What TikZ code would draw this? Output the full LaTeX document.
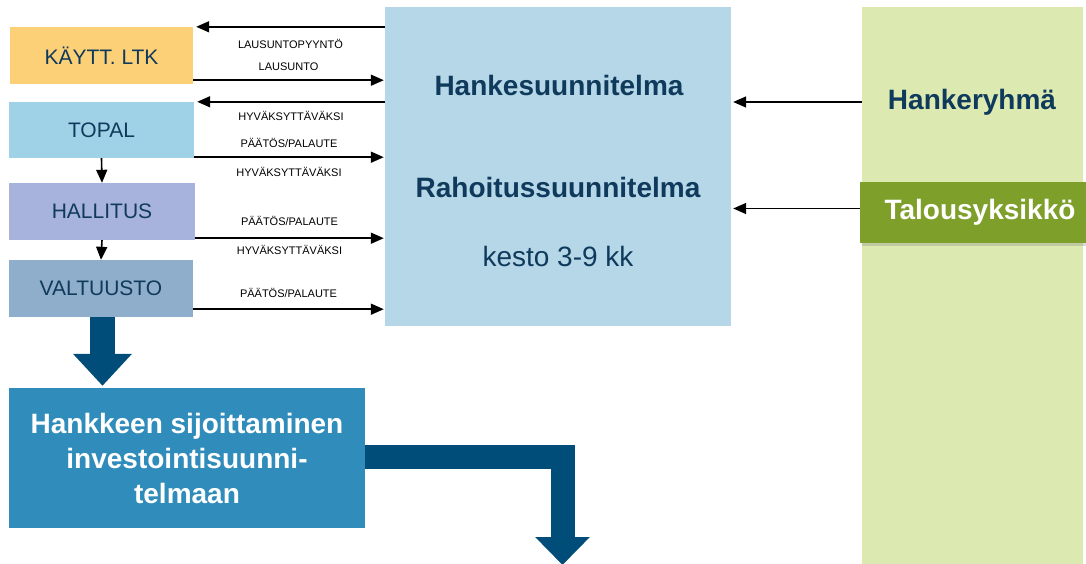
\documentclass[tikz,border=0pt]{standalone}
\usepackage{fontspec}
\setmainfont{Liberation Sans}
\usepackage{tikz}
\usetikzlibrary{arrows.meta,calc,positioning,shadows}
\definecolor{oranssi}{HTML}{FBD077}
\definecolor{vaaleaSini}{HTML}{9FD2E7}
\definecolor{violetti}{HTML}{A7B3DD}
\definecolor{harmaaSini}{HTML}{8FAECC}
\definecolor{taustaSini}{HTML}{B5D7E8}
\definecolor{vaaleaVihrea}{HTML}{DCE9B1}
\definecolor{vihrea}{HTML}{7F9F2B}
\definecolor{keskiSini}{HTML}{308CBA}
\definecolor{tummaSini}{HTML}{004D79}
\definecolor{tekstiSini}{HTML}{0F3A5C}

\begin{document}
\begin{tikzpicture}[x=1pt,y=-1pt,
  laatikko/.style={inner sep=0pt,text=tekstiSini,font=\fontsize{21}{25}\selectfont},
  otsikko/.style={inner sep=0pt,text=tekstiSini,font=\bfseries\fontsize{28}{34}\selectfont},
  ohut/.style={-{Triangle[length=13pt,width=11pt]},line width=1.6pt},
  etiketti/.style={inner sep=0pt,font=\fontsize{11}{13}\selectfont},
  paksu/.style={tummaSini,line width=25pt,-{Triangle[length=32pt,width=57pt]}}]
\useasboundingbox (0,0) rectangle (1086,564);
% vasen sarake
\node[laatikko,fill=oranssi,minimum width=183pt,minimum height=57pt] (kaytt) at (101.5,55.5) {KÄYTT. LTK};
\node[laatikko,fill=vaaleaSini,minimum width=185pt,minimum height=56pt] (topal) at (101.5,130) {TOPAL};
\node[laatikko,fill=violetti,minimum width=186pt,minimum height=57pt] (hallitus) at (102,211.5) {HALLITUS};
\node[laatikko,fill=harmaaSini,minimum width=184pt,minimum height=57pt] (valtuusto) at (101,288.5) {VALTUUSTO};
\node[inner sep=0pt,fill=keskiSini,text=white,align=center,minimum width=356pt,minimum height=140pt,
  font=\bfseries\fontsize{28}{35}\selectfont] (sijoitus) at (187,458)
  {Hankkeen sijoittaminen\\investointisuunni-\\telmaan};
% suunnitelma
\node[fill=taustaSini,minimum width=346pt,minimum height=319pt,inner sep=0pt] (suunnitelma) at (558,166.5) {};
\node[otsikko] (hanke) at (559,85) {Hankesuunnitelma};
\node[otsikko] (rahoitus) at (558,187) {Rahoitussuunnitelma};
\node[inner sep=0pt,text=tekstiSini,font=\fontsize{28}{34}\selectfont] (kesto) at (558,256) {kesto 3-9 kk};
% oikea sarake
\node[fill=vaaleaVihrea,minimum width=221pt,minimum height=560pt,inner sep=0pt] (ryhma) at (972.5,287) {};
\node[otsikko] (ryhmateksti) at (972,102) {Hankeryhmä};
\node[otsikko,text=white,fill=vihrea,minimum width=226pt,minimum height=61pt,
  drop shadow={opacity=0.3,shadow xshift=2pt,shadow yshift=-3pt}] (talous) at (973,212.5) {\hspace{14pt}Talousyksikkö};
% nuolet
\draw[ohut] (suunnitelma.west |- kaytt.north) -- ([xshift=3pt]kaytt.north east)
  node[etiketti,midway,yshift=-17pt] (l1) {LAUSUNTOPYYNTÖ};
\draw[ohut] ([yshift=4pt]kaytt.south east) -- ([xshift=-1pt,yshift=4pt]suunnitelma.west |- kaytt.south)
  node[etiketti,midway,yshift=13pt] (l2) {LAUSUNTO};
\draw[ohut] (suunnitelma.west |- topal.north) -- ([xshift=3pt]topal.north east)
  node[etiketti,midway,yshift=-14pt] (l3) {HYVÄKSYTTÄVÄKSI};
\draw[ohut] ([yshift=1pt]topal.south east) -- ([xshift=-1pt,yshift=1pt]suunnitelma.west |- topal.south)
  node[etiketti,midway,yshift=14pt] (l4) {PÄÄTÖS/PALAUTE}
  node[etiketti,midway,yshift=-15pt] (l5) {HYVÄKSYTTÄVÄKSI};
\draw[ohut] ([yshift=2pt]hallitus.south east) -- ([xshift=-1pt,yshift=2pt]suunnitelma.west |- hallitus.south)
  node[etiketti,midway,yshift=17pt] (l6) {PÄÄTÖS/PALAUTE}
  node[etiketti,midway,yshift=-12pt] (l7) {HYVÄKSYTTÄVÄKSI};
\draw[ohut] ([yshift=8pt]valtuusto.south east) -- ([xshift=-1pt,yshift=8pt]suunnitelma.west |- valtuusto.south)
  node[etiketti,midway,yshift=16pt] (l8) {PÄÄTÖS/PALAUTE};
\draw[ohut] (topal.south) -- (hallitus.north);
\draw[ohut] (hallitus.south) -- (valtuusto.north);
\draw[ohut] (ryhma.west |- ryhmateksti) -- ([xshift=2pt]suunnitelma.east |- ryhmateksti);
\draw[ohut] ([yshift=4pt]talous.west) -- ([xshift=2pt,yshift=4pt]suunnitelma.east |- talous.west);
% paksut nuolet
\draw[paksu] ([xshift=1.5pt]valtuusto.south) -- ([xshift=1.5pt,yshift=2pt]valtuusto.south |- sijoitus.north);
\coordinate (alas) at (562.5,565);
\draw[paksu,line width=24pt,-{Triangle[length=28pt,width=53pt]}] ([yshift=1.5pt]sijoitus.east) -| (alas);
\end{tikzpicture}
\end{document}
